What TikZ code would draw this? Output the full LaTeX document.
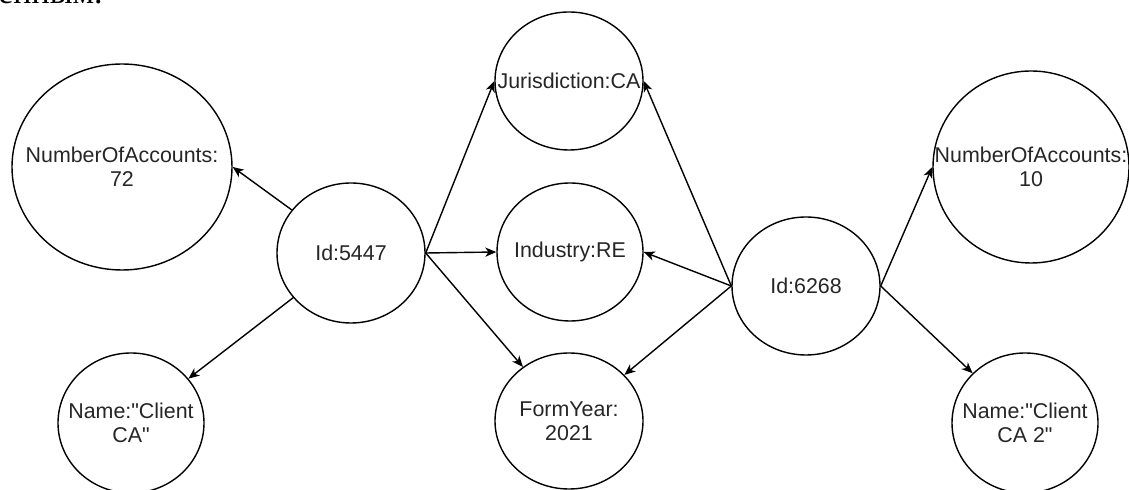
\documentclass[tikz,border=0pt]{standalone}
\usepackage{fontspec}
\setmainfont{Liberation Sans}
\newfontfamily\cyrserif{Liberation Serif}
\usetikzlibrary{arrows.meta,shapes.geometric}
\tikzset{
  >={Stealth[length=5.5pt,width=4.6pt,inset=1.6pt]},
  attr/.style={
    ellipse, draw=black, line width=0.7pt,
    fill=white, inner sep=0pt
  },
  every label/.style={
    font=\fontsize{10.7}{11.8}\selectfont,
    text=black!85, align=center, inner sep=0pt
  },
  link/.style={->, line width=0.7pt, draw=black},
}
\newcommand{\qq}{\textquotedbl}

\begin{document}
\begin{tikzpicture}[x=0.5pt,y=-0.5pt]
\useasboundingbox (0,0) rectangle (1129,490);
\clip (0,0) rectangle (1129,490);
% end of the line of text above
\node[anchor=base west, inner sep=0pt, font=\cyrserif\fontsize{17}{20}\selectfont]
  (prevline) at (-2,4) {енным.};
% --- Nodes ---
\node[attr, minimum width=110pt, minimum height=103pt,
  label={center:NumberOfAccounts:\\72}] (noa72) at (122,167) {};
\node[attr, minimum width=74pt, minimum height=70pt,
  label={center:Id:5447}] (id5447) at (351,253) {};
\node[attr, minimum width=73pt, minimum height=70pt,
  label={center:Name:\qq Client\\CA\qq}] (nameA) at (131,423) {};
\node[attr, minimum width=74pt, minimum height=69pt,
  label={center:Jurisdiction:CA}] (juris) at (569,81) {};
\node[attr, minimum width=73pt, minimum height=69pt,
  label={center:Industry:RE}] (industry) at (570,252) {};
\node[attr, minimum width=74pt, minimum height=68pt,
  label={center:FormYear:\\2021}] (formyear) at (569,421) {};
\node[attr, minimum width=74pt, minimum height=69pt,
  label={center:Id:6268}] (id6268) at (806,286) {};
\node[attr, minimum width=98pt, minimum height=96pt,
  label={center:NumberOfAccounts:\\10}] (noa10) at (1031,167) {};
\node[attr, minimum width=73pt, minimum height=70pt,
  label={center:Name:\qq Client\\CA 2\qq}] (nameB) at (1025,423) {};
% --- Arrows ---
\draw[link] (id5447) -- (noa72.east);
\draw[link] (id5447) -- (nameA);
\draw[link] (id5447.east) -- (juris.west);
\draw[link] (id5447.east) -- (industry.west);
\draw[link] (id5447.east) -- (formyear);
\draw[link] (id6268.west) -- (juris.east);
\draw[link] (id6268.west) -- (industry.east);
\draw[link] (id6268.west) -- (formyear);
\draw[link] (id6268.east) -- (noa10.west);
\draw[link] (id6268.east) -- (nameB);
\end{tikzpicture}
\end{document}
